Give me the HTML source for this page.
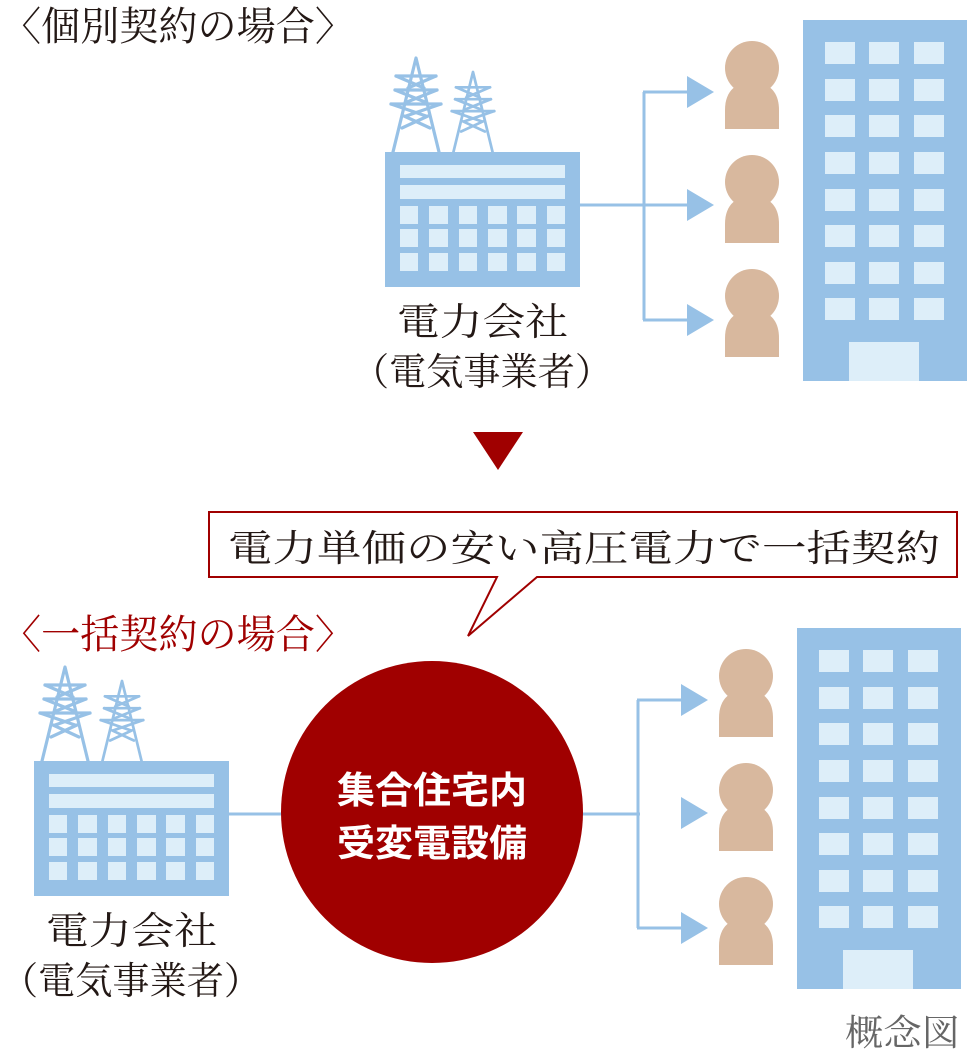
<!DOCTYPE html>
<html><head><meta charset="utf-8">
<style>
html,body{margin:0;padding:0;background:#fff;}
svg{display:block;}
.s{font-family:"Liberation Serif","Noto Serif CJK SC","Noto Sans CJK JP",serif;}
.b{font-family:"Liberation Sans","Noto Sans CJK JP",sans-serif;font-weight:bold;}
</style></head><body>
<svg width="967" height="1057" viewBox="0 0 967 1057" xmlns="http://www.w3.org/2000/svg">
<defs>
  <g id="tower" fill="none" stroke="#97c1e6" stroke-width="3.2" stroke-linejoin="round" stroke-linecap="round">
    <polyline points="-23,94 0,0 23,94"/>
    <line x1="-20" y1="18" x2="20" y2="18"/>
    <line x1="-21" y1="32" x2="21" y2="32"/>
    <line x1="-25" y1="46" x2="25" y2="46"/>
    <line x1="-20" y1="18" x2="8" y2="30"/><line x1="20" y1="18" x2="-8" y2="30"/>
    <line x1="-21" y1="32" x2="9" y2="44"/><line x1="21" y1="32" x2="-9" y2="44"/>
    <line x1="-25" y1="46" x2="10" y2="58"/><line x1="25" y1="46" x2="-10" y2="58"/>
    <line x1="-12" y1="58" x2="14" y2="70"/><line x1="12" y1="58" x2="-14" y2="70"/>
  </g>
  <g id="factory">
    <use href="#tower" transform="translate(416,58)"/>
    <use href="#tower" transform="translate(473,72) scale(0.85)"/>
    <rect x="385" y="152" width="195" height="135" fill="#97c1e6"/>
    <rect x="400" y="165" width="165" height="13" fill="#ddeef9"/>
    <rect x="400" y="185" width="165" height="14" fill="#ddeef9"/>
    <g fill="#ddeef9">
      <rect x="400" y="206" width="18" height="18"/><rect x="429" y="206" width="19" height="18"/><rect x="459" y="206" width="18" height="18"/><rect x="488" y="206" width="19" height="18"/><rect x="517" y="206" width="19" height="18"/><rect x="547" y="206" width="18" height="18"/>
      <rect x="400" y="229" width="18" height="18"/><rect x="429" y="229" width="19" height="18"/><rect x="459" y="229" width="18" height="18"/><rect x="488" y="229" width="19" height="18"/><rect x="517" y="229" width="19" height="18"/><rect x="547" y="229" width="18" height="18"/>
      <rect x="400" y="253" width="18" height="18"/><rect x="429" y="253" width="19" height="18"/><rect x="459" y="253" width="18" height="18"/><rect x="488" y="253" width="19" height="18"/><rect x="517" y="253" width="19" height="18"/><rect x="547" y="253" width="18" height="18"/>
    </g>
    <text class="s" x="397" y="335" font-size="38" fill="#231815" textLength="171" lengthAdjust="spacingAndGlyphs">電力会社</text>
    <text class="s" x="352" y="385" font-size="38" fill="#231815" textLength="260" lengthAdjust="spacingAndGlyphs">（電気事業者）</text>
  </g>
  <g id="person" fill="#d8b89e">
    <circle cx="0" cy="0" r="27"/>
    <path d="M-27,61 L-27,42 C-27,22 -15,14 0,14 C15,14 27,22 27,42 L27,61 Z"/>
  </g>
  <g id="right">
    <g stroke="#97c1e6" stroke-width="3" fill="none">
      <line x1="644" y1="92" x2="644" y2="320"/>
      <line x1="643" y1="92" x2="690" y2="92"/>
      <line x1="643" y1="320" x2="690" y2="320"/>
    </g>
    <g fill="#97c1e6">
      <polygon points="687,76 714,92 687,108"/>
      <polygon points="687,189 714,205 687,221"/>
      <polygon points="687,304 714,320 687,336"/>
    </g>
    <use href="#person" transform="translate(752,68)"/>
    <use href="#person" transform="translate(752,182)"/>
    <use href="#person" transform="translate(752,296)"/>
    <rect x="803" y="20" width="164" height="361" fill="#97c1e6"/>
    <g fill="#ddeef9">
      <rect x="825" y="42" width="30" height="22"/><rect x="869" y="42" width="30" height="22"/><rect x="914" y="42" width="30" height="22"/>
      <rect x="825" y="79" width="30" height="22"/><rect x="869" y="79" width="30" height="22"/><rect x="914" y="79" width="30" height="22"/>
      <rect x="825" y="115" width="30" height="22"/><rect x="869" y="115" width="30" height="22"/><rect x="914" y="115" width="30" height="22"/>
      <rect x="825" y="152" width="30" height="22"/><rect x="869" y="152" width="30" height="22"/><rect x="914" y="152" width="30" height="22"/>
      <rect x="825" y="189" width="30" height="22"/><rect x="869" y="189" width="30" height="22"/><rect x="914" y="189" width="30" height="22"/>
      <rect x="825" y="225" width="30" height="22"/><rect x="869" y="225" width="30" height="22"/><rect x="914" y="225" width="30" height="22"/>
      <rect x="825" y="262" width="30" height="22"/><rect x="869" y="262" width="30" height="22"/><rect x="914" y="262" width="30" height="22"/>
      <rect x="825" y="298" width="30" height="22"/><rect x="869" y="298" width="30" height="22"/><rect x="914" y="298" width="30" height="22"/>
      <rect x="849" y="342" width="70" height="39"/>
    </g>
  </g>
</defs>

<text class="s" x="2" y="40" font-size="40" fill="#231815" textLength="352" lengthAdjust="spacingAndGlyphs">〈個別契約の場合〉</text>
<use href="#factory"/>
<line x1="580" y1="205" x2="690" y2="205" stroke="#97c1e6" stroke-width="3"/>
<use href="#right"/>

<polygon points="473,432 523,432 498,470" fill="#a00000"/>

<path d="M209,512 L957,512 L957,577 L537,577 L468,636 L497,577 L209,577 Z" fill="#fff" stroke="#a00000" stroke-width="2"/>
<text class="s" x="228" y="561" font-size="37" fill="#231815" textLength="712" lengthAdjust="spacingAndGlyphs">電力単価の安い高圧電力で一括契約</text>

<text class="s" x="2" y="648" font-size="40" fill="#a00000" textLength="352" lengthAdjust="spacingAndGlyphs">〈一括契約の場合〉</text>
<use href="#factory" transform="translate(-351,609)"/>
<line x1="228" y1="814" x2="640" y2="814" stroke="#97c1e6" stroke-width="3"/>
<use href="#right" transform="translate(-6,608)"/>
<circle cx="432" cy="812" r="151" fill="#a00000"/>
<text class="b" x="337" y="803" font-size="37" fill="#fff" textLength="190" lengthAdjust="spacingAndGlyphs">集合住宅内</text>
<text class="b" x="337" y="856" font-size="37" fill="#fff" textLength="190" lengthAdjust="spacingAndGlyphs">受変電設備</text>

<text class="s" x="845" y="1045" font-size="36" fill="#666" textLength="115" lengthAdjust="spacingAndGlyphs">概念図</text>
</svg>
</body></html>
